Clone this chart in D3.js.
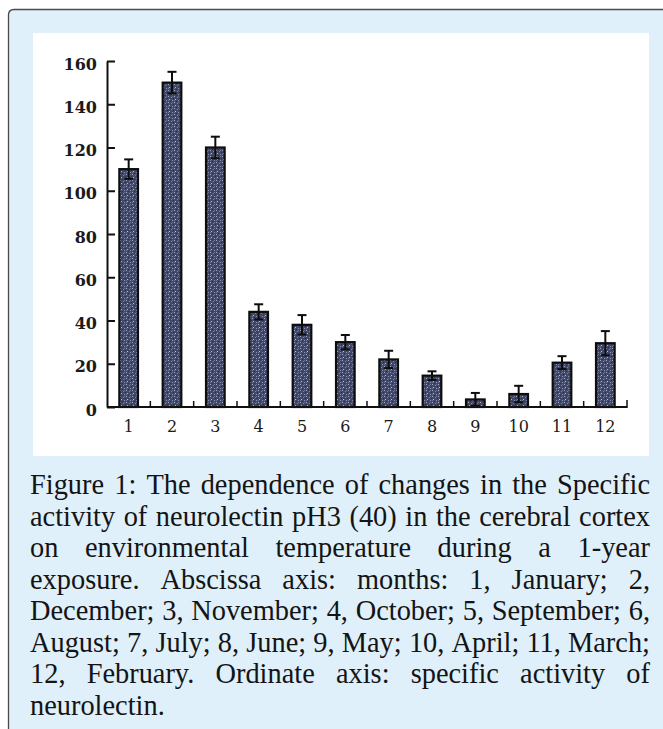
<!DOCTYPE html>
<html>
<head>
<meta charset="utf-8">
<script src="https://cdn.jsdelivr.net/npm/d3@7/dist/d3.min.js"></script>
<style>
  html, body { margin: 0; padding: 0; background: #ffffff; overflow: hidden; }
  svg { display: block; }
</style>
</head>
<body>
<svg id="chart" width="663" height="729"></svg>
<script>
// ---- data ----
const months = ["1","2","3","4","5","6","7","8","9","10","11","12"];
const values = [110, 150, 120, 44, 38, 30, 22, 14.5, 3.5, 6, 20.5, 29.5];
const errors = [4.5, 5, 5, 3.5, 4.5, 3.3, 4, 2, 3, 3.8, 3, 5.6];
const yTicks = [0, 20, 40, 60, 80, 100, 120, 140, 160];
const captionLines = [
  "Figure 1: The dependence of changes in the Specific",
  "activity of neurolectin pH3 (40) in the cerebral cortex",
  "on environmental temperature during a 1-year",
  "exposure. Abscissa axis: months: 1, January; 2,",
  "December; 3, November; 4, October; 5, September; 6,",
  "August; 7, July; 8, June; 9, May; 10, April; 11, March;",
  "12, February. Ordinate axis: specific activity of",
  "neurolectin."
];

const svg = d3.select("#chart");

// ---- panel background ----
svg.append("path")
  .attr("d", "M8.5,740 V15 Q8.5,9.5 14,9.5 H680 V740 Z")
  .attr("fill", "#dff0fb")
  .attr("stroke", "#4a4a4a")
  .attr("stroke-width", 1.3);

svg.append("rect")
  .attr("x", 33).attr("y", 33)
  .attr("width", 616).attr("height", 423)
  .attr("fill", "#ffffff");

// ---- bar texture pattern ----
const defs = svg.append("defs");
const pat = defs.append("pattern")
  .attr("id", "speckle")
  .attr("patternUnits", "userSpaceOnUse")
  .attr("width", 6).attr("height", 6);
pat.append("rect").attr("width", 6).attr("height", 6).attr("fill", "#424968");
[[0,0,"#a2a8c2"],[3,1,"#7a82a3"],[1,3,"#b8bdd2"],[4,4,"#8a92b2"],[5,2,"#2a2f4a"],[2,5,"#2c3150"],[4,0,"#646c90"],[0,4,"#6e769a"]]
  .forEach(([px,py,c]) => pat.append("rect").attr("x",px).attr("y",py).attr("width",1).attr("height",1).attr("fill",c));

// ---- scales ----
const x = d3.scaleBand().domain(months).range([107, 627]).padding(0);
const y = d3.scaleLinear().domain([0, 160]).range([407, 61]);
const barW = x.bandwidth() * 0.43;

const tickFont = "'DejaVu Serif', serif";

// ---- y axis ----
const yAxis = svg.append("g")
  .attr("transform", "translate(107,0)")
  .call(d3.axisLeft(y).tickValues(yTicks).tickSizeInner(-8).tickSizeOuter(0).tickPadding(10));
yAxis.select(".domain").attr("stroke", "#111").attr("stroke-width", 2);
yAxis.selectAll(".tick line").attr("stroke", "#111").attr("stroke-width", 2);
yAxis.selectAll(".tick text")
  .attr("font-family", tickFont).attr("font-size", 16).attr("font-weight", "bold").attr("fill", "#1a1a1a")
  .attr("y", 3);

// ---- bars ----
const bars = svg.append("g");
months.forEach((m, i) => {
  const cx = x(m) + x.bandwidth() / 2;
  bars.append("rect")
    .attr("x", cx - barW / 2)
    .attr("y", y(values[i]))
    .attr("width", barW)
    .attr("height", y(0) - y(values[i]))
    .attr("fill", "url(#speckle)")
    .attr("stroke", "#0d0d0d")
    .attr("stroke-width", 2.2);
});

// ---- error bars ----
const eg = svg.append("g").attr("stroke", "#0d0d0d").attr("stroke-width", 2);
months.forEach((m, i) => {
  const cx = x(m) + x.bandwidth() / 2;
  const hi = y(values[i] + errors[i]);
  const lo = y(Math.max(0, values[i] - errors[i]));
  eg.append("line").attr("x1", cx).attr("x2", cx).attr("y1", hi).attr("y2", lo);
  eg.append("line").attr("x1", cx - 4.5).attr("x2", cx + 4.5).attr("y1", hi).attr("y2", hi);
  eg.append("line").attr("x1", cx - 4.5).attr("x2", cx + 4.5).attr("y1", lo).attr("y2", lo);
});

// ---- x axis ----
const xAxis = svg.append("g")
  .attr("transform", "translate(0,407)")
  .call(d3.axisBottom(x).tickSize(0).tickPadding(0));
xAxis.select(".domain").remove();
xAxis.selectAll(".tick text")
  .attr("font-family", tickFont).attr("font-size", 16).attr("fill", "#1a1a1a")
  .attr("dy", null).attr("y", 25);
const xr = x.range();
xAxis.append("line").attr("x1", xr[0]).attr("x2", xr[1]).attr("y1", 0).attr("y2", 0)
  .attr("stroke", "#111").attr("stroke-width", 2);
months.slice(1).forEach(m => {
  xAxis.append("line").attr("x1", x(m)).attr("x2", x(m)).attr("y1", 0).attr("y2", -6)
    .attr("stroke", "#111").attr("stroke-width", 1.5);
});
xAxis.append("line").attr("x1", xr[1]).attr("x2", xr[1]).attr("y1", 1).attr("y2", -7)
  .attr("stroke", "#111").attr("stroke-width", 1.5);

// ---- caption (justified) ----
const capFont = "'Liberation Serif', 'Times New Roman', serif";
const capLeft = 30, capRight = 650, capWidth = capRight - capLeft;
const cap = svg.append("g")
  .attr("font-family", capFont).attr("fill", "#141414");

// fit font size so that the widest line fits
const probe = cap.append("text").attr("font-size", 24);
let maxW = 0;
captionLines.slice(0, 7).forEach(t => {
  probe.text(t);
  maxW = Math.max(maxW, probe.node().getComputedTextLength());
});
probe.remove();
const fs = 24 * (capWidth - 2) / maxW;

captionLines.forEach((line, li) => {
  const baseY = 494 + li * 31.5;
  const words = line.split(" ");
  const t = cap.append("text").attr("font-size", fs).attr("y", baseY);
  if (li === captionLines.length - 1) {
    t.attr("x", capLeft).text(line);
    return;
  }
  const spans = words.map(w => t.append("tspan").text(w));
  const widths = spans.map(s => s.node().getComputedTextLength());
  const total = d3.sum(widths);
  const gap = (capWidth - total) / (words.length - 1);
  let cx = capLeft;
  spans.forEach((s, k) => {
    s.attr("x", cx).attr("y", baseY);
    cx += widths[k] + gap;
  });
});
</script>
</body>
</html>
